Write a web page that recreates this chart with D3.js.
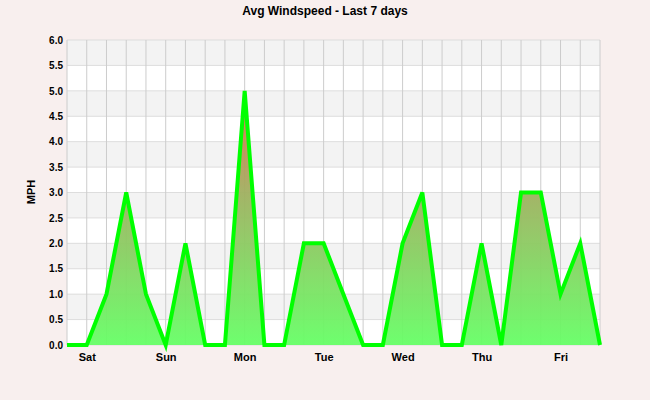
<!DOCTYPE html>
<html><head><meta charset="utf-8">
<script src="https://cdn.jsdelivr.net/npm/d3@7"></script>
<style>body{margin:0;background:#f8efee}</style></head>
<body><svg id="c" width="650" height="400"></svg>
<script>
var speeds = [0,0,1,3,1,0,2,0,0,5,0,0,2,2,1,0,0,2,3,0,0,2,0,3,3,1,2,0];
var dayLabels = ["Sat","Sun","Mon","Tue","Wed","Thu","Fri"];
var yTicks = d3.range(0, 6.01, 0.5);

var svg = d3.select("#c");
var m = {l:67, r:600, t:40, b:345};
var x = d3.scaleLinear().domain([0, speeds.length-1]).range([m.l, m.r]);
var y = d3.scaleLinear().domain([0, 6]).range([m.b, m.t]);

svg.append("text").attr("x", 325).attr("y", 15).attr("text-anchor","middle")
  .style("font", "bold 12px 'Liberation Sans', Arial, sans-serif").text("Avg Windspeed - Last 7 days");

// bands
svg.selectAll(".band").data(d3.range(12)).enter().append("rect")
  .attr("x", m.l).attr("width", m.r-m.l)
  .attr("y", function(i){ return y((i+1)*0.5); })
  .attr("height", function(i){ return y(i*0.5) - y((i+1)*0.5); })
  .attr("fill", function(i){ return i%2 ? "#f3f3f3" : "#ffffff"; });

// grid
svg.selectAll(".hg").data(yTicks).enter().append("line")
  .attr("x1", m.l).attr("x2", m.r).attr("y1", function(d){return y(d);}).attr("y2", function(d){return y(d);})
  .attr("stroke", "#dddddd");
svg.selectAll(".vg").data(d3.range(speeds.length)).enter().append("line")
  .attr("x1", function(i){return x(i);}).attr("x2", function(i){return x(i);})
  .attr("y1", m.t).attr("y2", m.b).attr("stroke", "#cccccc");

var grad = svg.append("defs").append("linearGradient").attr("id","g")
  .attr("gradientUnits","userSpaceOnUse").attr("x1",0).attr("x2",0).attr("y1",y(0)).attr("y2",y(5));
grad.append("stop").attr("offset","0").attr("stop-color","#66ff66");
grad.append("stop").attr("offset","0.6").attr("stop-color","#a0b060");
grad.append("stop").attr("offset","1").attr("stop-color","#e86a50");

svg.append("path").datum(speeds)
  .attr("d", d3.area().x(function(d,i){return x(i);}).y0(y(0)).y1(function(d){return y(d);}))
  .attr("fill","url(#g)").attr("opacity",0.95);
svg.append("path").datum(speeds)
  .attr("d", d3.line().x(function(d,i){return x(i);}).y(function(d){return y(d);}))
  .attr("fill","none").attr("stroke","#00ff00").attr("stroke-width",4).attr("stroke-linejoin","miter");

svg.append("g").attr("transform","translate("+m.l+",0)")
  .call(d3.axisLeft(y).tickValues(yTicks).tickFormat(d3.format(".1f")).tickSize(0).tickPadding(4))
  .call(function(g){ g.select(".domain").remove(); })
  .selectAll("text").style("font","bold 10px 'Liberation Sans', Arial, sans-serif").attr("fill","#000");

svg.append("g").attr("transform","translate(0,"+(m.b+2)+")")
  .call(d3.axisBottom(x).tickValues(dayLabels.map(function(d,i){return 1+i*4;}))
    .tickFormat(function(d){return dayLabels[(d-1)/4];}).tickSize(0).tickPadding(6))
  .call(function(g){ g.select(".domain").remove(); })
  .selectAll("text").style("font","bold 11px 'Liberation Sans', Arial, sans-serif").attr("fill","#000");

svg.append("text").attr("transform","translate(35,192) rotate(-90)").attr("text-anchor","middle")
  .style("font","bold 11px 'Liberation Sans', Arial, sans-serif").text("MPH");
</script></body></html>
